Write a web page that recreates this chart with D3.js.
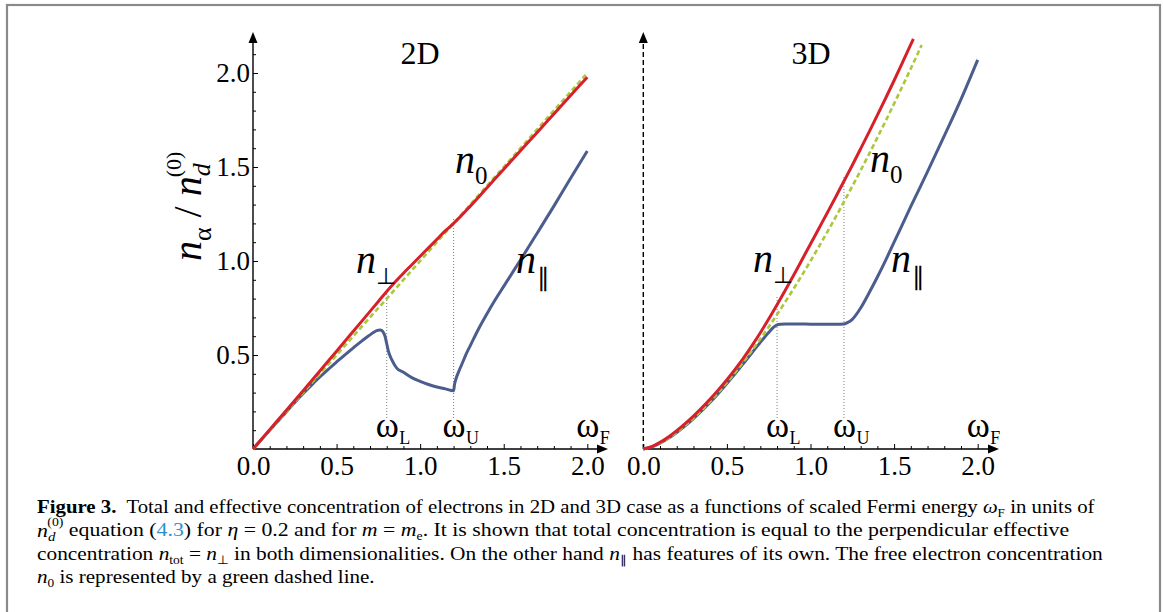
<!DOCTYPE html>
<html><head><meta charset="utf-8">
<script src="https://cdn.jsdelivr.net/npm/d3@7"></script>
<style>
body{margin:0;background:#fff}
svg{display:block}
text{font-family:"Liberation Serif","Times New Roman",serif;fill:#000}
</style>
</head><body>
<svg id="c" width="1163" height="612"></svg>
<script>
// ---------------- DATA ----------------
const panelTitles = ["2D", "3D"];
const xTickValues = [0, 0.5, 1.0, 1.5, 2.0];
const xTickLabels = ["0.0", "0.5", "1.0", "1.5", "2.0"];
const yTickValues = [0.5, 1.0, 1.5, 2.0];
const yTickLabels = ["0.5", "1.0", "1.5", "2.0"];
const xMinorTicks = [0.1,0.2,0.3,0.4,0.6,0.7,0.8,0.9,1.1,1.2,1.3,1.4,1.6,1.7,1.8,1.9];
const yMinorTicks = [0.1,0.2,0.3,0.4,0.6,0.7,0.8,0.9,1.1,1.2,1.3,1.4,1.6,1.7,1.8,1.9,2.1];
const markerOmega = [0.8, 1.2];           // omega_L, omega_U
const markerNames = ["L", "U"];
const markerTop2D = [0.84, 1.23];
const markerTop3D = [0.82, 1.45];
const markerBottom = 0.165;

// 2D
const w2D_n0 = [0, 1.99];
const n2D_n0 = [0, 1.99];
const w2D_perp = [0,0.1,0.2,0.3,0.4,0.5,0.6,0.7,0.75,0.8,0.85,0.9,0.95,1.0,1.05,1.1,1.15,1.2,1.3,1.4,1.5,1.6,1.7,1.8,1.9,2.0];
const n2D_perp = [0,0.103,0.206,0.31,0.415,0.52,0.626,0.732,0.785,0.838,0.888,0.935,0.98,1.025,1.07,1.115,1.16,1.2,1.292,1.39,1.488,1.586,1.684,1.782,1.88,1.978];
const w2D_par = [0,0.1,0.2,0.3,0.35,0.4,0.45,0.5,0.55,0.6,0.65,0.7,0.72,0.74,0.76,0.77,0.78,0.79,0.8,0.81,0.83,0.86,0.9,0.95,1.0,1.05,1.1,1.15,1.2,1.205,1.215,1.23,1.25,1.275,1.3,1.35,1.4,1.45,1.5,1.6,1.7,1.8,1.9,2.0];
const n2D_par = [0,0.1,0.198,0.295,0.34,0.383,0.424,0.463,0.501,0.538,0.574,0.607,0.62,0.63,0.633,0.63,0.62,0.6,0.56,0.52,0.475,0.43,0.408,0.38,0.36,0.343,0.33,0.32,0.31,0.34,0.375,0.41,0.452,0.505,0.55,0.64,0.72,0.795,0.865,1.005,1.148,1.292,1.44,1.585];

// 3D
const w3D_n0 = [0,0.05,0.1,0.15,0.2,0.25,0.3,0.35,0.4,0.45,0.5,0.55,0.6,0.65,0.7,0.75,0.8,0.85,0.9,0.95,1.0,1.05,1.1,1.15,1.2,1.25,1.3,1.35,1.4,1.45,1.5,1.55,1.6,1.65,1.665];
const n3D_n0 = [0,0.0112,0.0316,0.0581,0.0894,0.125,0.1643,0.2071,0.253,0.3019,0.3536,0.4079,0.4648,0.5241,0.5857,0.6495,0.7155,0.7837,0.8538,0.9259,1.0,1.0759,1.1537,1.2332,1.3145,1.3975,1.4822,1.5686,1.6565,1.746,1.8371,1.9297,2.0239,2.1195,2.1485];
const w3D_perp = [0,0.05,0.1,0.15,0.2,0.25,0.3,0.35,0.4,0.45,0.5,0.55,0.6,0.65,0.7,0.75,0.8,0.85,0.9,0.95,1.0,1.05,1.1,1.15,1.2,1.25,1.3,1.35,1.4,1.45,1.5,1.55,1.6,1.615];
const n3D_perp = [0,0.0122,0.0356,0.0641,0.0974,0.135,0.1753,0.2191,0.266,0.3159,0.3686,0.4249,0.4848,0.5501,0.6187,0.6915,0.7675,0.8457,0.9258,1.0079,1.09,1.1729,1.2557,1.3392,1.4245,1.5095,1.5972,1.6856,1.7755,1.867,1.9601,2.0557,2.1519,2.181];
const w3D_par = [0,0.05,0.1,0.15,0.2,0.25,0.3,0.35,0.4,0.45,0.5,0.55,0.6,0.65,0.7,0.75,0.78,0.8,0.82,0.85,0.9,1.0,1.1,1.15,1.2,1.22,1.25,1.3,1.35,1.4,1.45,1.5,1.6,1.7,1.8,1.9,2.0];
const n3D_par = [0,0.011,0.031,0.057,0.088,0.123,0.162,0.204,0.249,0.297,0.348,0.401,0.456,0.512,0.567,0.62,0.648,0.66,0.664,0.665,0.665,0.664,0.663,0.663,0.665,0.672,0.69,0.75,0.83,0.915,1.005,1.1,1.29,1.475,1.665,1.86,2.07];

// ---------------- DRAW ----------------
const svg = d3.select("#c");
const RED = "#d6212b", BLUE = "#4b5d8d", GREEN = "#abc83c";
const zip = (a, b) => a.map((v, i) => [v, b[i]]);

svg.append("rect").attr("x", 7).attr("y", 5).attr("width", 1153).attr("height", 640)
  .attr("fill", "none").attr("stroke", "#8a8a8a").attr("stroke-width", 2.2);

const panels = [
  { title: panelTitles[0], xr: [253, 587.3], dashedY: false, yLabels: true,
    n0: zip(w2D_n0, n2D_n0), perp: zip(w2D_perp, n2D_perp), par: zip(w2D_par, n2D_par), mtop: markerTop2D,
    titleX: 420, axisEnd: 608,
    lbl: { perp: [356, 273], n0: [455, 173], par: [516, 273] } },
  { title: panelTitles[1], xr: [643.3, 977.7], dashedY: true, yLabels: false,
    n0: zip(w3D_n0, n3D_n0), perp: zip(w3D_perp, n3D_perp), par: zip(w3D_par, n3D_par), mtop: markerTop3D,
    titleX: 811, axisEnd: 999,
    lbl: { perp: [753, 272], n0: [870, 172], par: [891, 272] } }
];

panels.forEach(p => {
  const x = d3.scaleLinear().domain([0, 2]).range(p.xr);
  const y = d3.scaleLinear().domain([0, 2]).range([449, 73]);
  const g = svg.append("g");
  const y0 = y(0), x0 = x(0);

  // x axis major
  const xa = g.append("g").attr("transform", `translate(0,${y0})`)
    .call(d3.axisBottom(x).tickValues(xTickValues).tickFormat((d, i) => xTickLabels[i])
      .tickSizeInner(-5).tickSizeOuter(0).tickPadding(7));
  xa.select(".domain").remove();
  xa.selectAll("text").attr("font-size", 27).attr("font-family", "Liberation Serif").attr("fill", "#111");
  const xm = g.append("g").attr("transform", `translate(0,${y0})`)
    .call(d3.axisBottom(x).tickValues(xMinorTicks).tickFormat("").tickSizeInner(-3).tickSizeOuter(0));
  xm.select(".domain").remove();

  // x axis line + arrow
  g.append("line").attr("x1", x0).attr("x2", p.axisEnd - 6).attr("y1", y0).attr("y2", y0)
    .attr("stroke", "#000").attr("stroke-width", 1.5);
  g.append("path").attr("d", `M${p.axisEnd},${y0} L${p.axisEnd - 11},${y0 - 4.5} L${p.axisEnd - 11},${y0 + 4.5}Z`).attr("fill", "#000");

  // y axis
  g.append("line").attr("x1", x0).attr("x2", x0).attr("y1", y0).attr("y2", 40)
    .attr("stroke", "#000").attr("stroke-width", 1.4)
    .attr("stroke-dasharray", p.dashedY ? "5,3" : null);
  g.append("path").attr("d", `M${x0},32 L${x0 - 4.5},43 L${x0 + 4.5},43Z`).attr("fill", "#000");
  if (p.yLabels) {
    const ya = g.append("g").attr("transform", `translate(${x0},0)`)
      .call(d3.axisLeft(y).tickValues(yTickValues).tickFormat((d, i) => yTickLabels[i])
        .tickSizeInner(-5).tickSizeOuter(0).tickPadding(3));
    ya.select(".domain").remove();
    ya.selectAll("text").attr("font-size", 27).attr("font-family", "Liberation Serif").attr("fill", "#111");
    const ym = g.append("g").attr("transform", `translate(${x0},0)`)
      .call(d3.axisLeft(y).tickValues(yMinorTicks).tickFormat("").tickSizeInner(-3).tickSizeOuter(0));
    ym.select(".domain").remove();
  }

  // marker dotted lines
  markerOmega.forEach((w, i) => {
    g.append("line").attr("x1", x(w)).attr("x2", x(w)).attr("y1", y(markerBottom)).attr("y2", y(p.mtop[i]))
      .attr("stroke", "#7a7a7a").attr("stroke-width", 1).attr("stroke-dasharray", "1,2");
  });

  // curves
  const line = d3.line().x(d => x(d[0])).y(d => y(d[1])).curve(d3.curveMonotoneX);
  g.append("path").datum(p.par).attr("d", line).attr("fill", "none").attr("stroke", BLUE).attr("stroke-width", 3);
  g.append("path").datum(p.n0).attr("d", line).attr("fill", "none").attr("stroke", GREEN).attr("stroke-width", 2.6).attr("stroke-dasharray", "5,3");
  g.append("path").datum(p.perp).attr("d", line).attr("fill", "none").attr("stroke", RED).attr("stroke-width", 3);

  // title
  g.append("text").attr("x", p.titleX).attr("y", 64).attr("text-anchor", "middle")
    .attr("font-size", 32).attr("fill", "#222").text(p.title);

  // omega labels
  const om = (xc, sub) => {
    const t = g.append("text").attr("x", xc - 11).attr("y", 437).attr("font-size", 35).attr("fill", "#222");
    t.append("tspan").text("ω");
    t.append("tspan").attr("x", xc + 12.5).attr("dy", 7).attr("font-size", 18).text(sub);
  };
  markerOmega.forEach((w, i) => om(x(w), markerNames[i]));
  om(x(2.0), "F");

  // curve labels
  const lab = (pos, col, sub, subDx, subDy, subSize) => {
    const t = g.append("text").attr("x", pos[0]).attr("y", pos[1]).attr("font-size", 40).attr("fill", col);
    t.append("tspan").attr("font-style", "italic").text("n");
    t.append("tspan").attr("x", pos[0] + subDx).attr("dy", subDy).attr("font-size", subSize).text(sub);
  };
  lab(p.lbl.perp, RED, "⊥", 20, 11, 23);
  lab(p.lbl.n0, GREEN, "0", 20, 11, 25);
  lab(p.lbl.par, BLUE, "∥", 21, 13, 25);
});

// y-axis label (rotated)
const yl = svg.append("text").attr("transform", "translate(201,261) rotate(-90)").attr("font-size", 40).attr("fill", "#222");
yl.append("tspan").attr("font-style", "italic").text("n");
yl.append("tspan").attr("font-size", 26).attr("dy", 10).text("α");
yl.append("tspan").attr("dy", -10).text(" / ");
yl.append("tspan").attr("font-style", "italic").text("n");
yl.append("tspan").attr("font-style", "italic").attr("font-size", 26).attr("dy", 9).text("d");
yl.append("tspan").attr("font-size", 22).attr("dx", -14).attr("dy", -29).text("(0)");

// ---------------- CAPTION ----------------
const capLines = [
  { y: 513, w: 1058, parts: [
    { t: "Figure 3.", b: true }, { t: "  Total and effective concentration of electrons in 2D and 3D case as a functions of scaled Fermi energy " },
    { t: "ω", i: true }, { t: "F", sub: true, s: 12 }, { t: " in units of", reset: true } ] },
  { y: 537, w: 1041, parts: [
    { t: "n", i: true }, { t: "d", i: true, sub: true, s: 13 }, { t: "(0)", s: 12, dx: -7, dy: -15 },
    { t: " equation (", dy: 10 }, { t: "4.3", c: "#2b8fd4" }, { t: ") for " }, { t: "η", i: true }, { t: " = 0.2 and for " },
    { t: "m", i: true }, { t: " = " }, { t: "m", i: true }, { t: "e", sub: true, s: 12 },
    { t: ". It is shown that total concentration is equal to the perpendicular effective", reset: true } ] },
  { y: 560, w: 1065, parts: [
    { t: "concentration " }, { t: "n", i: true }, { t: "tot", sub: true, s: 12 }, { t: " = ", reset: true }, { t: "n", i: true },
    { t: "⊥", sub: true, s: 12 }, { t: " in both dimensionalities. On the other hand ", reset: true }, { t: "n", i: true },
    { t: "∥", sub: true, s: 12 }, { t: " has features of its own. The free electron concentration", reset: true } ] },
  { y: 583, w: 338, parts: [
    { t: "n", i: true }, { t: "0", sub: true, s: 12 }, { t: " is represented by a green dashed line.", reset: true } ] }
];
capLines.forEach(L => {
  const tx = svg.append("text").attr("x", 0).attr("y", 0).attr("font-size", 19).attr("fill", "#1a1a1a")
    .attr("xml:space", "preserve").style("white-space", "pre");
  L.parts.forEach(p => {
    const ts = tx.append("tspan").text(p.t);
    if (p.b) ts.attr("font-weight", "bold");
    if (p.i) ts.attr("font-style", "italic");
    if (p.c) ts.attr("fill", p.c);
    if (p.s) ts.attr("font-size", p.s);
    if (p.sub) ts.attr("dy", 4);
    if (p.reset) ts.attr("dy", -4);
    if (p.dx) ts.attr("dx", p.dx);
    if (p.dy) ts.attr("dy", p.dy);
  });
  const bw = tx.node().getComputedTextLength();
  tx.attr("transform", `translate(37,${L.y}) scale(${L.w / bw},1)`);
});
</script>
</body></html>
